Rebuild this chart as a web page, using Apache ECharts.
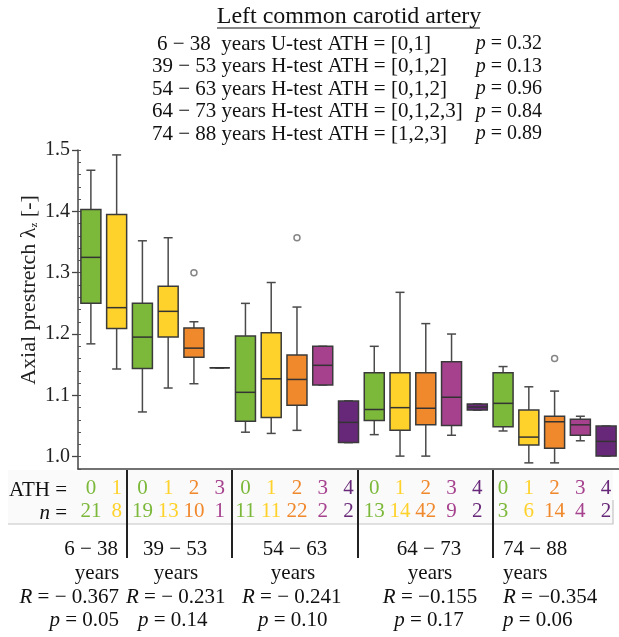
<!DOCTYPE html>
<html>
<head>
<meta charset="utf-8">
<script src="https://cdn.jsdelivr.net/npm/echarts@6/dist/echarts.min.js"></script>
<style>
html, body { margin: 0; padding: 0; background: #fff; }
#main { width: 619px; height: 637px; }
</style>
</head>
<body>
<div id="main"></div>
<script>
// one box per (age group, ATH level)
var categories = ['6-38 A0', '6-38 A1',
    '39-53 A0', '39-53 A1', '39-53 A2', '39-53 A3',
    '54-63 A0', '54-63 A1', '54-63 A2', '54-63 A3', '54-63 A4',
    '64-73 A0', '64-73 A1', '64-73 A2', '64-73 A3', '64-73 A4',
    '74-88 A0', '74-88 A1', '74-88 A2', '74-88 A3', '74-88 A4'];
var athLevels = [0, 1, 0, 1, 2, 3, 0, 1, 2, 3, 4, 0, 1, 2, 3, 4, 0, 1, 2, 3, 4];
var nCounts = [21, 8, 19, 13, 10, 1, 11, 11, 22, 2, 2, 13, 14, 42, 9, 2, 3, 6, 14, 4, 2];
// [min, Q1, median, Q3, max]
var boxStats = [
    [1.184, 1.250, 1.325, 1.403, 1.467],
    [1.143, 1.209, 1.243, 1.395, 1.492],
    [1.073, 1.144, 1.195, 1.250, 1.352],
    [1.112, 1.195, 1.237, 1.278, 1.357],
    [1.119, 1.162, 1.177, 1.210, 1.220],
    [1.145, 1.145, 1.145, 1.145, 1.145],
    [1.040, 1.058, 1.105, 1.197, 1.250],
    [1.038, 1.064, 1.127, 1.202, 1.284],
    [1.043, 1.084, 1.126, 1.166, 1.244],
    [1.117, 1.117, 1.149, 1.180, 1.180],
    [1.023, 1.023, 1.056, 1.091, 1.091],
    [1.036, 1.059, 1.077, 1.137, 1.180],
    [1.001, 1.043, 1.080, 1.137, 1.268],
    [1.001, 1.052, 1.079, 1.137, 1.217],
    [1.035, 1.051, 1.097, 1.155, 1.200],
    [1.076, 1.076, 1.081, 1.086, 1.086],
    [1.042, 1.049, 1.087, 1.137, 1.147],
    [0.990, 1.019, 1.032, 1.076, 1.114],
    [0.990, 1.014, 1.057, 1.066, 1.107],
    [1.026, 1.035, 1.052, 1.061, 1.066],
    [1.001, 1.001, 1.025, 1.050, 1.050]
];
var outliers = [[4, 1.300], [8, 1.357], [18, 1.160]];

var ageGroups = ['6 − 38', '39 − 53', '54 − 63', '64 − 73', '74 − 88'];
var rValues = ['− 0.367', '− 0.231', '− 0.241', '−0.155', '−0.354'];
var pValues = ['0.05', '0.14', '0.10', '0.17', '0.06'];

var testLines = ['6 − 38  years U-test ATH = [0,1]',
    '39 − 53 years H-test ATH = [0,1,2]',
    '54 − 63 years H-test ATH = [0,1,2]',
    '64 − 73 years H-test ATH = [0,1,2,3]',
    '74 − 88 years H-test ATH = [1,2,3]'];
var testP = ['0.32', '0.13', '0.96', '0.84', '0.89'];

var yLabels = [1.0, 1.1, 1.2, 1.3, 1.4, 1.5];

var athColors = ['#7cb83a', '#ffd22b', '#f0882c', '#a6418e', '#682879'];
var FONT = 'Liberation Serif';
var FS = 21;

var myChart = echarts.init(document.getElementById('main'), null, {renderer: 'canvas'});

function renderBox(params, api) {
    var x = api.value(0);
    var lo = api.coord([x, api.value(1)]);
    var q1 = api.coord([x, api.value(2)]);
    var md = api.coord([x, api.value(3)]);
    var q3 = api.coord([x, api.value(4)]);
    var hi = api.coord([x, api.value(5)]);
    var cx = lo[0];
    var hw = 10, cw = 4.5;
    var col = athColors[athLevels[params.dataIndex]];
    var wl = {stroke: '#4a4a4a', lineWidth: 1.5};
    return {
        type: 'group',
        children: [
            {type: 'line', shape: {x1: cx, y1: hi[1], x2: cx, y2: q3[1]}, style: wl},
            {type: 'line', shape: {x1: cx, y1: q1[1], x2: cx, y2: lo[1]}, style: wl},
            {type: 'line', shape: {x1: cx - cw, y1: hi[1], x2: cx + cw, y2: hi[1]}, style: wl},
            {type: 'line', shape: {x1: cx - cw, y1: lo[1], x2: cx + cw, y2: lo[1]}, style: wl},
            {type: 'rect', shape: {x: cx - hw, y: q3[1], width: hw * 2, height: q1[1] - q3[1]},
                style: {fill: col, stroke: '#3a3a3a', lineWidth: 1.5}},
            {type: 'line', shape: {x1: cx - hw, y1: md[1], x2: cx + hw, y2: md[1]},
                style: {stroke: '#333', lineWidth: 1.5}}
        ]
    };
}

var richAth = {};
athColors.forEach(function (c, k) {
    richAth['a' + k] = {color: c, fontSize: FS, fontFamily: FONT, lineHeight: 23};
});
var itRich = {i: {fontStyle: 'italic', fontSize: FS, fontFamily: FONT}};

var graphics = [];
// title block
graphics.push({type: 'text', x: 349, y: 17, style: {text: 'Left common carotid artery', font: '24px ' + FONT, fill: '#111', align: 'center', verticalAlign: 'middle'}});
graphics.push({type: 'line', shape: {x1: 217, y1: 28, x2: 480, y2: 28}, style: {stroke: '#111', lineWidth: 1}});
testLines.forEach(function (t, i) {
    var y = 44 + i * 22.5;
    graphics.push({type: 'text', x: i === 0 ? 157 : 152, y: y, style: {text: t, font: FS + 'px ' + FONT, fill: '#111', verticalAlign: 'middle'}});
    graphics.push({type: 'text', x: 542, y: y, style: {
        text: '{i|p} = ' + testP[i], font: '20px ' + FONT, fill: '#111', align: 'right', verticalAlign: 'middle',
        rich: {i: {fontStyle: 'italic', fontSize: 20, fontFamily: FONT}}}});
});

// table behind ATH / n rows
graphics.push({type: 'rect', z: -1, shape: {x: 8, y: 470, width: 605, height: 54}, style: {fill: '#fafafa'}});
graphics.push({type: 'polyline', shape: {points: [[8, 524], [613, 524], [613, 500]]}, style: {stroke: '#c4c4c4', lineWidth: 1.2, fill: null}});
graphics.push({type: 'text', x: 67, y: 490, style: {text: 'ATH =', font: FS + 'px ' + FONT, fill: '#111', align: 'right', verticalAlign: 'middle'}});
graphics.push({type: 'text', x: 67, y: 513, style: {text: '{i|n} =', font: FS + 'px ' + FONT, fill: '#111', align: 'right', verticalAlign: 'middle', rich: itRich}});

// group separators
[127, 232, 358, 493].forEach(function (x) {
    graphics.push({type: 'line', shape: {x1: x, y1: 470, x2: x, y2: 558}, style: {stroke: '#222', lineWidth: 2}});
});

// group labels under the table
var ageX = [[118, 'right'], [143, 'left'], [295, 'center'], [429, 'center'], [503, 'left']];
var yearsX = [[97, 'center'], [176, 'center'], [293, 'center'], [430, 'center'], [503, 'left']];
var rX = [[119, 'right'], [126, 'left'], [242, 'left'], [430, 'center'], [503, 'left']];
var pX = [[119, 'right'], [138, 'left'], [258, 'left'], [429, 'center'], [503, 'left']];
ageGroups.forEach(function (g, i) {
    graphics.push({type: 'text', x: ageX[i][0], y: 549, style: {text: g, font: FS + 'px ' + FONT, fill: '#111', align: ageX[i][1], verticalAlign: 'middle'}});
    graphics.push({type: 'text', x: yearsX[i][0], y: 573, style: {text: 'years', font: FS + 'px ' + FONT, fill: '#111', align: yearsX[i][1], verticalAlign: 'middle'}});
    graphics.push({type: 'text', x: rX[i][0], y: 597, style: {text: '{i|R} = ' + rValues[i], font: FS + 'px ' + FONT, fill: '#111', align: rX[i][1], verticalAlign: 'middle', rich: itRich}});
    graphics.push({type: 'text', x: pX[i][0], y: 620, style: {text: '{i|p} = ' + pValues[i], font: FS + 'px ' + FONT, fill: '#111', align: pX[i][1], verticalAlign: 'middle', rich: itRich}});
});

// y axis title
graphics.push({type: 'text', x: 29, y: 290, rotation: Math.PI / 2, style: {
    text: 'Axial prestretch λ{s|z} [-]', font: '22px ' + FONT, fill: '#222', align: 'center', verticalAlign: 'middle',
    rich: {s: {fontSize: 11, fontFamily: FONT, padding: [10, 0, 0, 0]}}}});

var option = {
    animation: false,
    backgroundColor: '#fff',
    grid: {left: 78, top: 150, width: 544, height: 319},
    xAxis: {
        type: 'category',
        data: categories,
        boundaryGap: true,
        axisLine: {lineStyle: {color: '#444', width: 1.5}},
        axisTick: {alignWithLabel: true, length: 6, lineStyle: {color: '#555', width: 1.2}},
        axisLabel: {
            interval: 0,
            margin: 8,
            formatter: function (v, idx) {
                var k = athLevels[idx];
                return '{a' + k + '|' + k + '}\n{a' + k + '|' + nCounts[idx] + '}';
            },
            rich: richAth
        },
        splitLine: {show: false}
    },
    yAxis: [{
        type: 'value',
        min: 0.98,
        max: 1.5,
        interval: 0.02,
        axisLine: {show: true, lineStyle: {color: '#444', width: 1.5}},
        axisTick: {show: true, inside: true, length: 3, lineStyle: {color: '#555'}},
        axisLabel: {show: false},
        splitLine: {show: false}
    }, {
        type: 'value',
        position: 'left',
        min: 0.98,
        max: 1.5,
        axisLine: {show: false},
        axisTick: {show: true, length: 6, customValues: yLabels, lineStyle: {color: '#444', width: 1.3}},
        axisLabel: {
            customValues: yLabels,
            margin: 8,
            fontSize: 20,
            fontFamily: FONT,
            color: '#222',
            formatter: function (v) { return v.toFixed(1); }
        },
        splitLine: {show: false}
    }],
    series: [{
        type: 'custom',
        renderItem: renderBox,
        encode: {x: 0, y: [1, 2, 3, 4, 5]},
        data: boxStats.map(function (s, i) { return [i].concat(s); }),
        z: 2
    }, {
        type: 'scatter',
        symbol: 'circle',
        symbolSize: 6,
        itemStyle: {color: '#fff', borderColor: '#666', borderWidth: 1.5},
        data: outliers,
        z: 3
    }],
    graphic: graphics
};
myChart.setOption(option);
</script>
</body>
</html>
